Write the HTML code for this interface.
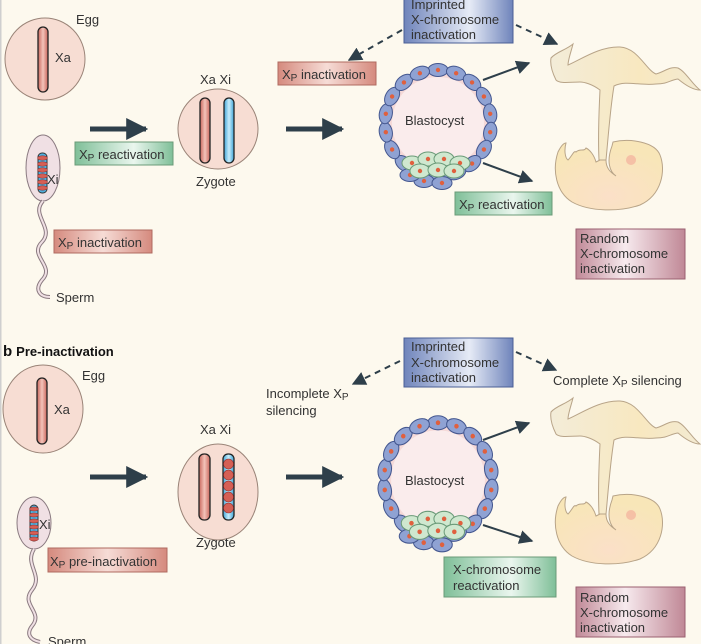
<!DOCTYPE html>
<html><head><meta charset="utf-8"><style>
html,body{margin:0;padding:0;background:#fdf9ee;}
svg{display:block;font-family:"Liberation Sans",sans-serif;}
text{fill:#333;font-size:13px;}
</style></head><body>
<svg width="701" height="644" viewBox="0 0 701 644" xmlns="http://www.w3.org/2000/svg">
<defs>
<linearGradient id="gr" x1="0" x2="1"><stop offset="0" stop-color="#d58a7e"/><stop offset=".5" stop-color="#f6dcd6"/><stop offset="1" stop-color="#d58a7e"/></linearGradient>
<linearGradient id="gg" x1="0" x2="1"><stop offset="0" stop-color="#7fbf98"/><stop offset=".6" stop-color="#eaf6ee"/><stop offset="1" stop-color="#7fbf98"/></linearGradient>
<linearGradient id="gb" x1="0" x2="1"><stop offset="0" stop-color="#6f84bb"/><stop offset=".6" stop-color="#e6ebf6"/><stop offset="1" stop-color="#6f84bb"/></linearGradient>
<linearGradient id="gm" x1="0" x2="1"><stop offset="0" stop-color="#c08896"/><stop offset=".45" stop-color="#f7eaee"/><stop offset="1" stop-color="#c08896"/></linearGradient>
<linearGradient id="chr" x1="0" x2="1"><stop offset="0" stop-color="#c9665c"/><stop offset=".5" stop-color="#f3c3b9"/><stop offset="1" stop-color="#c9665c"/></linearGradient>
<linearGradient id="chb" x1="0" x2="1"><stop offset="0" stop-color="#3fa5d8"/><stop offset=".5" stop-color="#c8ecfa"/><stop offset="1" stop-color="#3fa5d8"/></linearGradient>
<radialGradient id="emb" cx=".5" cy=".8" r=".7"><stop offset="0" stop-color="#fbe0c8"/><stop offset="1" stop-color="#f8e6b8"/></radialGradient>
<linearGradient id="mem" x1="0" x2="1"><stop offset="0" stop-color="#f3ecd8"/><stop offset=".6" stop-color="#f8e8c0"/><stop offset="1" stop-color="#f3ead2"/></linearGradient>
<marker id="ah" viewBox="0 0 10 10" refX="9" refY="5" markerWidth="7" markerHeight="7" orient="auto"><path d="M0,0L10,5L0,10z" fill="#2e3f4a"/></marker>
<marker id="ahb" viewBox="0 0 10 10" refX="9" refY="5" markerWidth="4.4" markerHeight="4.4" orient="auto"><path d="M0,0L10,5L0,10z" fill="#2e3f4a"/></marker>
<g id="bcell"><ellipse cx="0" cy="0" rx="10" ry="6.5" fill="#8fa2d3" stroke="#44578f" stroke-width="1"/><circle cx="0" cy="0" r="2.2" fill="#e0603e"/></g>
<g id="gcell"><ellipse cx="0" cy="0" rx="10" ry="7" fill="#cfe8cf" stroke="#6a9a78" stroke-width="1"/><circle cx="0" cy="0" r="2.2" fill="#e0603e"/></g>
<g id="blast">
<circle cx="0" cy="0" r="52" fill="#f5d9d8" stroke="#44578f"/>
<circle cx="0" cy="0" r="46" fill="#faecec"/>
<use href="#bcell" transform="rotate(0) translate(0,-53)"/>
<use href="#bcell" transform="rotate(20) translate(0,-53)"/>
<use href="#bcell" transform="rotate(40) translate(0,-53)"/>
<use href="#bcell" transform="rotate(60) translate(0,-53)"/>
<use href="#bcell" transform="rotate(80) translate(0,-53)"/>
<use href="#bcell" transform="rotate(100) translate(0,-53)"/>
<use href="#bcell" transform="rotate(120) translate(0,-53)"/>
<use href="#bcell" transform="rotate(140) translate(0,-53)"/>
<use href="#bcell" transform="rotate(160) translate(0,-53)"/>
<use href="#bcell" transform="rotate(180) translate(0,-53)"/>
<use href="#bcell" transform="rotate(200) translate(0,-53)"/>
<use href="#bcell" transform="rotate(220) translate(0,-53)"/>
<use href="#bcell" transform="rotate(240) translate(0,-53)"/>
<use href="#bcell" transform="rotate(260) translate(0,-53)"/>
<use href="#bcell" transform="rotate(280) translate(0,-53)"/>
<use href="#bcell" transform="rotate(300) translate(0,-53)"/>
<use href="#bcell" transform="rotate(320) translate(0,-53)"/>
<use href="#bcell" transform="rotate(340) translate(0,-53)"/>
<use href="#bcell" transform="translate(-14,58)"/>
<use href="#bcell" transform="translate(4,60)"/>
<use href="#bcell" transform="translate(-28,52)"/>
<use href="#gcell" transform="translate(-26,40)"/>
<use href="#gcell" transform="translate(-10,36)"/>
<use href="#gcell" transform="translate(6,36)"/>
<use href="#gcell" transform="translate(22,40)"/>
<use href="#gcell" transform="translate(-18,48)"/>
<use href="#gcell" transform="translate(0,47)"/>
<use href="#gcell" transform="translate(16,48)"/>
</g>
<g id="embryo">
<path d="M551,58 C556,52 566,50 573,44 C571,52 568,60 568,65 C580,60 600,46 620,47 C638,48 646,70 656,74 C664,72 670,66 678,68 C686,72 692,84 700,90 C692,90 684,84 678,79 C670,80 668,84 656,84 C640,86 626,80 614,86 C610,110 608,140 606,160 L599,160 C598,140 599,110 600,90 C592,84 584,82 580,82 C570,82 560,84 556,80 C552,72 550,64 551,58 Z" fill="url(#mem)" stroke="#b8a488" stroke-width="1"/>
<path d="M613,142 C630,138 655,142 660,155 C666,170 662,195 640,205 C620,212 590,212 572,202 C556,192 552,170 558,152 C561,146 564,143 566,143 C564,150 565,158 568,160 C572,156 574,150 576,152 C580,148 584,152 586,148 C590,150 594,155 596,162 L600,160 L606,160 C606,168 610,172 616,176 C610,172 606,162 612,146 Z" fill="url(#emb)" stroke="#b8a488" stroke-width="1"/>
</g>
</defs>

<rect x="0" y="0" width="1.5" height="644" fill="#cfcfcf"/>

<!-- ===== Panel a ===== -->
<ellipse cx="45" cy="59" rx="40" ry="41" fill="#f7ddd3" stroke="#9a8478"/>
<rect x="38" y="27" width="10" height="65" rx="5" fill="url(#chr)" stroke="#222" stroke-width="1.3"/>
<text x="76" y="24">Egg</text><text x="55" y="62">Xa</text>

<ellipse cx="43" cy="168" rx="17" ry="33" fill="#f0e0e4" stroke="#8a7a80"/>
<rect x="38" y="153" width="9" height="40" rx="4" fill="#4fb0e0" stroke="#333"/>
<g fill="#d55f55" stroke="#8a2a2a" stroke-width=".5"><ellipse cx="42.5" cy="158" rx="5" ry="2.2"/><ellipse cx="42.5" cy="164" rx="5" ry="2.2"/><ellipse cx="42.5" cy="170" rx="5" ry="2.2"/><ellipse cx="42.5" cy="176" rx="5" ry="2.2"/><ellipse cx="42.5" cy="182" rx="5" ry="2.2"/><ellipse cx="42.5" cy="188" rx="5" ry="2.2"/></g>
<text x="47" y="184">Xi</text>
<path d="M43,201 C30,215 55,228 42,242 C28,256 56,266 42,280 C34,290 40,297 50,297" fill="none" stroke="#8a7a80" stroke-width="4"/>
<path d="M43,201 C30,215 55,228 42,242 C28,256 56,266 42,280 C34,290 40,297 50,297" fill="none" stroke="#f0e0e4" stroke-width="2"/>
<text x="56" y="302">Sperm</text>

<line x1="90" y1="129" x2="146" y2="129" stroke="#2e3f4a" stroke-width="5" marker-end="url(#ahb)"/>
<rect x="75" y="142" width="98" height="23" fill="url(#gg)" stroke="#6a9a78"/>
<text x="79" y="159">X<tspan font-size="10" dy="2">P</tspan><tspan dy="-2"> reactivation</tspan></text>
<rect x="54" y="230" width="98" height="23" fill="url(#gr)" stroke="#b06a60"/>
<text x="58" y="247">X<tspan font-size="10" dy="2">P</tspan><tspan dy="-2"> inactivation</tspan></text>

<ellipse cx="218" cy="129" rx="40" ry="40" fill="#f7ddd3" stroke="#9a8478"/>
<rect x="200" y="98" width="10" height="65" rx="5" fill="url(#chr)" stroke="#222" stroke-width="1.3"/>
<rect x="224" y="98" width="10" height="65" rx="5" fill="url(#chb)" stroke="#222" stroke-width="1.3"/>
<text x="200" y="84">Xa  Xi</text><text x="196" y="186">Zygote</text>

<line x1="286" y1="129" x2="342" y2="129" stroke="#2e3f4a" stroke-width="5" marker-end="url(#ahb)"/>
<rect x="278" y="62" width="98" height="23" fill="url(#gr)" stroke="#b06a60"/>
<text x="282" y="79">X<tspan font-size="10" dy="2">P</tspan><tspan dy="-2"> inactivation</tspan></text>
<rect x="404" y="-3" width="109" height="46" fill="url(#gb)" stroke="#4a5f95"/>
<text x="411" y="9">Imprinted</text><text x="411" y="24">X-chromosome</text><text x="411" y="39">inactivation</text>
<line x1="402" y1="30" x2="349" y2="60" stroke="#2e3f4a" stroke-width="2" stroke-dasharray="6,5" marker-end="url(#ah)"/>
<line x1="516" y1="25" x2="557" y2="44" stroke="#2e3f4a" stroke-width="2" stroke-dasharray="6,5" marker-end="url(#ah)"/>
<use href="#blast" transform="translate(438,123)"/>
<text x="405" y="125">Blastocyst</text>
<line x1="483" y1="80" x2="529" y2="63" stroke="#2e3f4a" stroke-width="2" marker-end="url(#ah)"/>
<line x1="483" y1="163" x2="532" y2="181" stroke="#2e3f4a" stroke-width="2" marker-end="url(#ah)"/>
<rect x="455" y="192" width="97" height="23" fill="url(#gg)" stroke="#6a9a78"/>
<text x="459" y="209">X<tspan font-size="10" dy="2">P</tspan><tspan dy="-2"> reactivation</tspan></text>
<use href="#embryo"/>
<circle cx="631" cy="160" r="5" fill="#f4b6a0" opacity=".8"/>
<rect x="576" y="229" width="109" height="50" fill="url(#gm)" stroke="#9a6070"/>
<text x="580" y="243">Random</text><text x="580" y="258">X-chromosome</text><text x="580" y="273">inactivation</text>

<!-- ===== Panel b ===== -->
<text x="3" y="356" font-weight="bold" style="fill:#111"><tspan font-size="15">b</tspan><tspan dx="4" font-size="13">Pre-inactivation</tspan></text>
<ellipse cx="43" cy="409" rx="40" ry="44" fill="#f7ddd3" stroke="#9a8478"/>
<rect x="37" y="378" width="10" height="66" rx="5" fill="url(#chr)" stroke="#222" stroke-width="1.3"/>
<text x="82" y="380">Egg</text><text x="54" y="414">Xa</text>

<ellipse cx="34" cy="523" rx="17" ry="26" fill="#f0e0e4" stroke="#8a7a80"/>
<rect x="30" y="505" width="8" height="36" rx="4" fill="#4fb0e0" stroke="#333"/>
<g fill="#d55f55" stroke="#8a2a2a" stroke-width=".5"><ellipse cx="34" cy="509" rx="4.5" ry="2"/><ellipse cx="34" cy="515" rx="4.5" ry="2"/><ellipse cx="34" cy="521" rx="4.5" ry="2"/><ellipse cx="34" cy="527" rx="4.5" ry="2"/><ellipse cx="34" cy="533" rx="4.5" ry="2"/><ellipse cx="34" cy="539" rx="4.5" ry="2"/></g>
<text x="39" y="529">Xi</text>
<path d="M34,549 C24,565 44,575 32,590 C20,605 44,612 32,626 C26,634 30,640 40,642" fill="none" stroke="#8a7a80" stroke-width="4"/>
<path d="M34,549 C24,565 44,575 32,590 C20,605 44,612 32,626 C26,634 30,640 40,642" fill="none" stroke="#f0e0e4" stroke-width="2"/>
<text x="48" y="646">Sperm</text>
<rect x="48" y="548" width="119" height="24" fill="url(#gr)" stroke="#b06a60"/>
<text x="50" y="566">X<tspan font-size="10" dy="2">P</tspan><tspan dy="-2"> pre-inactivation</tspan></text>

<line x1="90" y1="477" x2="146" y2="477" stroke="#2e3f4a" stroke-width="5" marker-end="url(#ahb)"/>
<ellipse cx="218" cy="492" rx="40" ry="48" fill="#f7ddd3" stroke="#9a8478"/>
<rect x="199" y="454" width="11" height="66" rx="5" fill="url(#chr)" stroke="#222" stroke-width="1.3"/>
<rect x="223" y="454" width="11" height="66" rx="5" fill="url(#chb)" stroke="#222" stroke-width="1.3"/>
<g fill="#d55f55" stroke="#8a2a2a" stroke-width=".6"><circle cx="228.5" cy="464" r="5"/><circle cx="228.5" cy="475" r="5"/><circle cx="228.5" cy="486" r="5"/><circle cx="228.5" cy="497" r="5"/><circle cx="228.5" cy="508" r="5"/></g>
<text x="200" y="434">Xa  Xi</text><text x="196" y="547">Zygote</text>

<line x1="286" y1="477" x2="342" y2="477" stroke="#2e3f4a" stroke-width="5" marker-end="url(#ahb)"/>
<text x="266" y="398">Incomplete X<tspan font-size="10" dy="2">P</tspan></text>
<text x="266" y="415">silencing</text>
<rect x="404" y="338" width="109" height="49" fill="url(#gb)" stroke="#4a5f95"/>
<text x="411" y="351">Imprinted</text><text x="411" y="367">X-chromosome</text><text x="411" y="382">inactivation</text>
<line x1="400" y1="361" x2="353" y2="384" stroke="#2e3f4a" stroke-width="2" stroke-dasharray="6,5" marker-end="url(#ah)"/>
<line x1="516" y1="352" x2="556" y2="370" stroke="#2e3f4a" stroke-width="2" stroke-dasharray="6,5" marker-end="url(#ah)"/>
<text x="553" y="385">Complete X<tspan font-size="10" dy="2">P</tspan><tspan dy="-2"> silencing</tspan></text>
<use href="#blast" transform="translate(438,480) scale(1.02,1.08)"/>
<text x="405" y="485">Blastocyst</text>
<line x1="483" y1="440" x2="529" y2="423" stroke="#2e3f4a" stroke-width="2" marker-end="url(#ah)"/>
<line x1="483" y1="525" x2="532" y2="541" stroke="#2e3f4a" stroke-width="2" marker-end="url(#ah)"/>
<rect x="444" y="557" width="112" height="40" fill="url(#gg)" stroke="#6a9a78"/>
<text x="453" y="574">X-chromosome</text><text x="453" y="590">reactivation</text>
<use href="#embryo" transform="translate(0,354)"/>
<circle cx="631" cy="515" r="5" fill="#f4b6a0" opacity=".8"/>
<rect x="576" y="587" width="109" height="50" fill="url(#gm)" stroke="#9a6070"/>
<text x="580" y="602">Random</text><text x="580" y="617">X-chromosome</text><text x="580" y="632">inactivation</text>
</svg>
</body></html>
